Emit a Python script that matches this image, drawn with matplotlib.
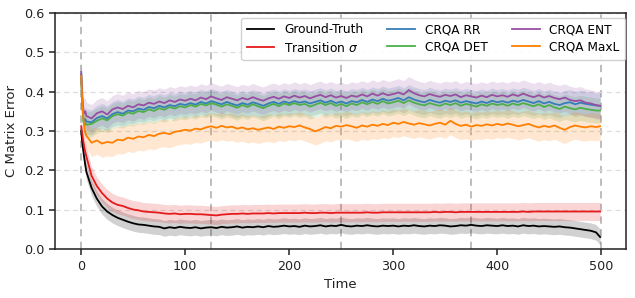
import matplotlib
matplotlib.use("Agg")
import matplotlib.pyplot as plt
import numpy as np

# ── Data ──────────────────────────────────────────────────

time = [0, 1, 2, 3, 4] + list(range(5, 500, 5)) + [499]

ground_truth = [
    0.300, 0.272, 0.250, 0.230, 0.212, 0.196,
    0.155, 0.128, 0.108, 0.095, 0.086, 0.079, 0.074, 0.069, 0.065, 0.062,
    0.061, 0.059, 0.057, 0.056, 0.052, 0.055, 0.053, 0.056, 0.054,
    0.053, 0.055, 0.052, 0.054, 0.055, 0.053, 0.056, 0.054, 0.055, 0.057,
    0.054, 0.056, 0.055, 0.057, 0.055, 0.058, 0.056, 0.057, 0.059, 0.057,
    0.058, 0.056, 0.059, 0.057, 0.058, 0.060, 0.057, 0.059, 0.058, 0.061,
    0.058, 0.057, 0.059, 0.058, 0.060, 0.058, 0.057, 0.059, 0.058, 0.059,
    0.057, 0.059, 0.058, 0.060, 0.058, 0.057, 0.059, 0.058, 0.060, 0.059,
    0.057, 0.058, 0.060, 0.059, 0.061, 0.059, 0.058, 0.060, 0.059, 0.058,
    0.060, 0.058, 0.059, 0.057, 0.060, 0.058, 0.059, 0.057, 0.058, 0.057,
    0.056, 0.057, 0.055, 0.054, 0.052, 0.050, 0.048, 0.046, 0.042,
    0.030,
]

transition = [
    0.312, 0.292, 0.274, 0.258, 0.246, 0.235,
    0.186, 0.160, 0.142, 0.128, 0.118, 0.112, 0.109, 0.104, 0.100, 0.098,
    0.095, 0.094, 0.093, 0.092, 0.090, 0.089, 0.090, 0.088, 0.089,
    0.089, 0.088, 0.088, 0.087, 0.086, 0.085, 0.087, 0.088, 0.089, 0.089,
    0.090, 0.089, 0.090, 0.090, 0.090, 0.091, 0.090, 0.091, 0.091, 0.091,
    0.091, 0.091, 0.092, 0.091, 0.091, 0.092, 0.092, 0.091, 0.092, 0.092,
    0.092, 0.092, 0.092, 0.092, 0.093, 0.092, 0.092, 0.093, 0.093, 0.093,
    0.093, 0.093, 0.093, 0.093, 0.093, 0.093, 0.093, 0.094, 0.093, 0.094,
    0.094, 0.093, 0.094, 0.094, 0.094, 0.094, 0.094, 0.094, 0.094, 0.094,
    0.094, 0.094, 0.094, 0.094, 0.095, 0.094, 0.095, 0.095, 0.095, 0.095,
    0.095, 0.095, 0.095, 0.095, 0.095, 0.095, 0.095, 0.095, 0.095,
    0.095,
]

crqa_rr = [
    0.445, 0.375, 0.335, 0.325, 0.330, 0.324,
    0.322, 0.333, 0.338, 0.332, 0.343, 0.348, 0.344, 0.352, 0.350, 0.357,
    0.354, 0.361, 0.358, 0.364, 0.360, 0.366, 0.363, 0.369, 0.366,
    0.371, 0.367, 0.374, 0.370, 0.376, 0.372, 0.368, 0.374, 0.369, 0.365,
    0.371, 0.367, 0.373, 0.369, 0.364, 0.370, 0.374, 0.369, 0.375, 0.371,
    0.376, 0.372, 0.375, 0.370, 0.374, 0.378, 0.372, 0.377, 0.371, 0.375,
    0.370, 0.376, 0.373, 0.379, 0.374, 0.380, 0.376, 0.382, 0.377, 0.380,
    0.384, 0.378, 0.386, 0.380, 0.376, 0.373, 0.379, 0.375, 0.372, 0.377,
    0.374, 0.378, 0.372, 0.376, 0.373, 0.370, 0.375, 0.371, 0.377, 0.373,
    0.376, 0.372, 0.377, 0.374, 0.379, 0.375, 0.371, 0.376, 0.370, 0.374,
    0.369, 0.366, 0.371, 0.373, 0.368, 0.372, 0.369, 0.367, 0.365,
    0.364,
]

crqa_det = [
    0.440, 0.365, 0.325, 0.315, 0.320, 0.316,
    0.318, 0.326, 0.332, 0.327, 0.338, 0.343, 0.339, 0.347, 0.344, 0.351,
    0.348, 0.355, 0.351, 0.358, 0.354, 0.361, 0.357, 0.363, 0.360,
    0.366, 0.362, 0.369, 0.365, 0.371, 0.367, 0.362, 0.368, 0.364, 0.359,
    0.366, 0.361, 0.368, 0.363, 0.358, 0.364, 0.369, 0.363, 0.370, 0.366,
    0.371, 0.366, 0.369, 0.362, 0.367, 0.372, 0.366, 0.371, 0.364, 0.369,
    0.363, 0.370, 0.366, 0.373, 0.368, 0.374, 0.369, 0.376, 0.370, 0.373,
    0.377, 0.371, 0.378, 0.372, 0.368, 0.365, 0.371, 0.367, 0.364, 0.370,
    0.366, 0.371, 0.364, 0.369, 0.366, 0.362, 0.368, 0.364, 0.370, 0.366,
    0.369, 0.364, 0.370, 0.366, 0.371, 0.367, 0.363, 0.368, 0.361, 0.366,
    0.360, 0.356, 0.362, 0.358, 0.355, 0.359, 0.356, 0.354, 0.352,
    0.352,
]

crqa_ent = [
    0.450, 0.390, 0.355, 0.345, 0.350, 0.338,
    0.332, 0.345, 0.350, 0.342, 0.355, 0.360, 0.356, 0.364, 0.360, 0.368,
    0.365, 0.372, 0.369, 0.375, 0.371, 0.378, 0.374, 0.380, 0.377,
    0.382, 0.378, 0.385, 0.381, 0.388, 0.383, 0.379, 0.386, 0.382, 0.378,
    0.384, 0.380, 0.386, 0.381, 0.377, 0.383, 0.387, 0.382, 0.388, 0.384,
    0.390, 0.385, 0.389, 0.383, 0.388, 0.392, 0.386, 0.391, 0.385, 0.389,
    0.384, 0.390, 0.387, 0.393, 0.388, 0.395, 0.390, 0.396, 0.391, 0.394,
    0.398, 0.393, 0.404, 0.396, 0.391, 0.388, 0.394, 0.390, 0.387, 0.392,
    0.389, 0.393, 0.386, 0.391, 0.388, 0.385, 0.390, 0.386, 0.392, 0.388,
    0.391, 0.387, 0.393, 0.389, 0.395, 0.390, 0.386, 0.391, 0.385, 0.389,
    0.384, 0.381, 0.385, 0.379, 0.376, 0.378, 0.372, 0.370, 0.366,
    0.364,
]

crqa_maxl = [
    0.440, 0.380, 0.335, 0.310, 0.295, 0.288,
    0.270, 0.276, 0.268, 0.272, 0.270, 0.278, 0.276, 0.283, 0.280, 0.286,
    0.284, 0.290, 0.287, 0.293, 0.295, 0.292, 0.298, 0.300, 0.303,
    0.301, 0.306, 0.304, 0.309, 0.312, 0.308, 0.313, 0.309, 0.311, 0.306,
    0.309, 0.304, 0.307, 0.303, 0.306, 0.309, 0.305, 0.311, 0.308, 0.312,
    0.310, 0.314, 0.309, 0.305, 0.299, 0.304, 0.310, 0.307, 0.313, 0.311,
    0.315, 0.312, 0.308, 0.314, 0.311, 0.316, 0.313, 0.318, 0.315, 0.321,
    0.318, 0.323, 0.319, 0.316, 0.320, 0.317, 0.314, 0.318, 0.321, 0.316,
    0.326, 0.318, 0.313, 0.316, 0.311, 0.315, 0.313, 0.317, 0.314, 0.318,
    0.315, 0.319, 0.316, 0.312, 0.315, 0.318, 0.313, 0.309, 0.313, 0.310,
    0.314, 0.308, 0.303, 0.310, 0.314, 0.311, 0.309, 0.312, 0.310,
    0.312,
]

# spread of the shaded band around each mean
band = {
    "Ground-Truth": 0.020,
    "Transition $\\sigma$": 0.023,
    "CRQA RR": 0.032,
    "CRQA DET": 0.032,
    "CRQA ENT": 0.035,
    "CRQA MaxL": 0.035,
}

series = [
    ("Ground-Truth", ground_truth, "black"),
    ("Transition $\\sigma$", transition, "#e41a1c"),
    ("CRQA RR", crqa_rr, "#377eb8"),
    ("CRQA DET", crqa_det, "#4daf4a"),
    ("CRQA ENT", crqa_ent, "#984ea3"),
    ("CRQA MaxL", crqa_maxl, "#ff7f00"),
]

# ── Plot ─────────────────────────────────────────────────

plt.rcParams["font.family"] = "DejaVu Sans"
FS = 9.2

fig = plt.figure(figsize=(6.35, 2.98), dpi=100)
ax = fig.add_axes([0.087, 0.165, 0.899, 0.791])

t = np.array(time)
for name, vals, color in series:
    v = np.array(vals)
    s = band[name]
    ax.fill_between(t, v - s, v + s, color=color, alpha=0.18, linewidth=0)
    ax.plot(t, v, color=color, linewidth=1.3, label=name)

for x in [0, 125, 250, 375, 500]:
    ax.axvline(x, color="#999999", linestyle=(0, (4, 3)), linewidth=1.3,
               alpha=0.7, zorder=0)

ax.set_ylim(0, 0.6)
ax.set_yticks([0.0, 0.1, 0.2, 0.3, 0.4, 0.5, 0.6])
ax.set_xticks([0, 100, 200, 300, 400, 500])
ax.yaxis.grid(True, linestyle=(0, (4, 3)), color="#dddddd", linewidth=0.9)
ax.set_axisbelow(True)
ax.tick_params(direction="out", length=4.5, width=1.1, labelsize=FS,
               colors="#222222")
for sp in ax.spines.values():
    sp.set_color("#222222")
    sp.set_linewidth(1.1)

ax.set_xlabel("Time", fontsize=9.5, color="#222222")
ax.set_ylabel("C Matrix Error", fontsize=9.5, color="#222222", labelpad=4)
ax.legend(loc="upper right", ncol=3, fontsize=8.7, framealpha=0.9,
          handlelength=2.3, handletextpad=0.8, columnspacing=2.0,
          borderpad=0.45, labelspacing=0.35, borderaxespad=0,
          bbox_to_anchor=(0.998, 0.979))

fig.savefig("out.png", dpi=100)
